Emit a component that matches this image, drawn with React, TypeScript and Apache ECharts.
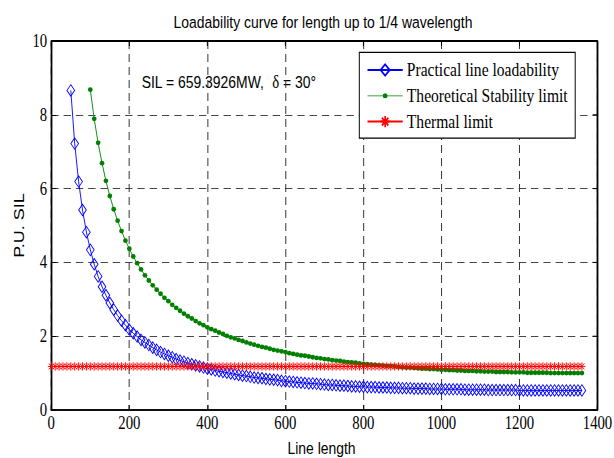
import React, { useEffect, useRef } from "react";
import * as echarts from "echarts";

// ---------------- data ----------------
const lengths = [
  0, 10, 20, 30, 40, 50, 60, 70, 80, 90,
  100, 110, 120, 130, 140, 150, 160, 170, 180, 190,
  200, 210, 220, 230, 240, 250, 260, 270, 280, 290,
  300, 310, 320, 330, 340, 350, 360, 370, 380, 390,
  400, 410, 420, 430, 440, 450, 460, 470, 480, 490,
  500, 510, 520, 530, 540, 550, 560, 570, 580, 590,
  600, 610, 620, 630, 640, 650, 660, 670, 680, 690,
  700, 710, 720, 730, 740, 750, 760, 770, 780, 790,
  800, 810, 820, 830, 840, 850, 860, 870, 880, 890,
  900, 910, 920, 930, 940, 950, 960, 970, 980, 990,
  1000, 1010, 1020, 1030, 1040, 1050, 1060, 1070, 1080, 1090,
  1100, 1110, 1120, 1130, 1140, 1150, 1160, 1170, 1180, 1190,
  1200, 1210, 1220, 1230, 1240, 1250, 1260, 1270, 1280, 1290,
  1300, 1310, 1320, 1330, 1340, 1350, 1360,
];

// Practical line loadability, from 50 km
const practicalStart = 50;
const practical = [
  8.66, 7.22, 6.19, 5.42, 4.82, 4.34, 3.95, 3.62, 3.34, 3.11,
  2.90, 2.72, 2.56, 2.42, 2.30, 2.18, 2.08, 1.99, 1.90, 1.83,
  1.76, 1.69, 1.63, 1.57, 1.52, 1.47, 1.43, 1.38, 1.34, 1.31,
  1.27, 1.24, 1.21, 1.18, 1.15, 1.12, 1.10, 1.07, 1.05, 1.03,
  1.01, 0.99, 0.97, 0.95, 0.93, 0.92, 0.90, 0.88, 0.87, 0.86,
  0.84, 0.83, 0.82, 0.81, 0.79, 0.78, 0.77, 0.76, 0.75, 0.74,
  0.73, 0.72, 0.72, 0.71, 0.70, 0.69, 0.68, 0.68, 0.67, 0.66,
  0.66, 0.65, 0.64, 0.64, 0.63, 0.63, 0.62, 0.62, 0.62, 0.61,
  0.61, 0.61, 0.60, 0.60, 0.60, 0.59, 0.59, 0.59, 0.58, 0.58,
  0.58, 0.58, 0.57, 0.57, 0.57, 0.57, 0.56, 0.56, 0.56, 0.56,
  0.56, 0.55, 0.55, 0.55, 0.55, 0.55, 0.55, 0.54, 0.54, 0.54,
  0.54, 0.54, 0.54, 0.54, 0.54, 0.53, 0.53, 0.53, 0.53, 0.53,
  0.53, 0.53, 0.53, 0.53, 0.53, 0.53, 0.53, 0.53, 0.53, 0.53,
  0.53, 0.53,
];

// Theoretical stability limit, from 100 km
const theoreticalStart = 100;
const theoretical = [
  8.68, 7.89, 7.24, 6.69, 6.21, 5.80, 5.44, 5.13, 4.85, 4.59,
  4.37, 4.16, 3.98, 3.81, 3.65, 3.51, 3.38, 3.26, 3.15, 3.04,
  2.95, 2.85, 2.77, 2.69, 2.61, 2.54, 2.48, 2.41, 2.35, 2.30,
  2.24, 2.19, 2.15, 2.10, 2.06, 2.01, 1.97, 1.94, 1.90, 1.87,
  1.83, 1.80, 1.77, 1.74, 1.71, 1.69, 1.66, 1.63, 1.61, 1.59,
  1.57, 1.54, 1.52, 1.50, 1.48, 1.47, 1.45, 1.43, 1.41, 1.40,
  1.38, 1.37, 1.35, 1.34, 1.33, 1.31, 1.30, 1.29, 1.28, 1.26,
  1.25, 1.24, 1.23, 1.22, 1.21, 1.20, 1.19, 1.19, 1.18, 1.17,
  1.16, 1.15, 1.15, 1.14, 1.13, 1.12, 1.12, 1.11, 1.11, 1.10,
  1.09, 1.09, 1.08, 1.08, 1.07, 1.07, 1.06, 1.06, 1.06, 1.05,
  1.05, 1.04, 1.04, 1.04, 1.03, 1.03, 1.03, 1.03, 1.02, 1.02,
  1.02, 1.02, 1.01, 1.01, 1.01, 1.01, 1.01, 1.01, 1.00, 1.00,
  1.00, 1.00, 1.00, 1.00, 1.00, 1.00, 1.00,
];

// Thermal limit, from 0 km
const thermalStart = 0;
const thermal = [
  1.18, 1.18, 1.18, 1.18, 1.18, 1.18, 1.18, 1.18, 1.18, 1.18,
  1.18, 1.18, 1.18, 1.18, 1.18, 1.18, 1.18, 1.18, 1.18, 1.18,
  1.18, 1.18, 1.18, 1.18, 1.18, 1.18, 1.18, 1.18, 1.18, 1.18,
  1.18, 1.18, 1.18, 1.18, 1.18, 1.18, 1.18, 1.18, 1.18, 1.18,
  1.18, 1.18, 1.18, 1.18, 1.18, 1.18, 1.18, 1.18, 1.18, 1.18,
  1.18, 1.18, 1.18, 1.18, 1.18, 1.18, 1.18, 1.18, 1.18, 1.18,
  1.18, 1.18, 1.18, 1.18, 1.18, 1.18, 1.18, 1.18, 1.18, 1.18,
  1.18, 1.18, 1.18, 1.18, 1.18, 1.18, 1.18, 1.18, 1.18, 1.18,
  1.18, 1.18, 1.18, 1.18, 1.18, 1.18, 1.18, 1.18, 1.18, 1.18,
  1.18, 1.18, 1.18, 1.18, 1.18, 1.18, 1.18, 1.18, 1.18, 1.18,
  1.18, 1.18, 1.18, 1.18, 1.18, 1.18, 1.18, 1.18, 1.18, 1.18,
  1.18, 1.18, 1.18, 1.18, 1.18, 1.18, 1.18, 1.18, 1.18, 1.18,
  1.18, 1.18, 1.18, 1.18, 1.18, 1.18, 1.18, 1.18, 1.18, 1.18,
  1.18, 1.18, 1.18, 1.18, 1.18, 1.18, 1.18,
];

const seriesNames = [
  "Practical line loadability",
  "Theoretical Stability limit",
  "Thermal limit",
];
const titleText = "Loadability curve for length up to 1/4 wavelength";
const xAxisTitle = "Line length";
const yAxisTitle = "P.U. SIL";
const xTickValues = [0, 200, 400, 600, 800, 1000, 1200, 1400];
const yTickValues = [0, 2, 4, 6, 8, 10];

// ---------------- layout ----------------
const S = 0.82; // horizontal squash, matches the condensed look of the source
const INNER_W = 749;
const H = 458;
const ix = (px: number) => px / S;
const GRID_LEFT = ix(51.3);
const GRID_RIGHT = ix(597.5);
const GRID_TOP = 41;
const GRID_H = 369;

function pairs(start: number, values: number[]) {
  const off = lengths.indexOf(start);
  return values.map((v, i) => [lengths[off + i], v]);
}

const SANS = "'Liberation Sans', Arial, sans-serif";
const SERIF = "'Liberation Serif', 'Times New Roman', serif";

export default function App() {
  const ref = useRef<HTMLDivElement>(null);

  useEffect(() => {
    if (!ref.current) return;
    const chart = echarts.init(ref.current, null, {
      renderer: "svg",
      width: INNER_W,
      height: H,
    });

    const xMin = xTickValues[0];
    const xMax = xTickValues[xTickValues.length - 1];
    const yMin = yTickValues[0];
    const yMax = yTickValues[yTickValues.length - 1];
    const plain = (v: number) => String(v);
    const gridW = GRID_RIGHT - GRID_LEFT;

    // top / right edges of the axes box with inward ticks (MATLAB style)
    const frame: any[] = [
      {
        type: "rect",
        left: GRID_LEFT,
        top: GRID_TOP - 1,
        silent: true,
        z: 50,
        shape: { width: gridW, height: 2 },
        style: { fill: "#000" },
      },
      {
        type: "rect",
        left: GRID_RIGHT - 1,
        top: GRID_TOP,
        silent: true,
        z: 50,
        shape: { width: 2, height: GRID_H },
        style: { fill: "#000" },
      },
    ];
    xTickValues.forEach((v) => {
      const px = GRID_LEFT + ((v - xMin) / (xMax - xMin)) * gridW;
      frame.push({
        type: "rect",
        left: px - 0.6,
        top: GRID_TOP,
        silent: true,
        z: 50,
        shape: { width: 1.2, height: 5 },
        style: { fill: "#000" },
      });
    });
    yTickValues.forEach((v) => {
      const py = GRID_TOP + GRID_H - ((v - yMin) / (yMax - yMin)) * GRID_H;
      frame.push({
        type: "rect",
        left: GRID_RIGHT - 6,
        top: py - 0.5,
        silent: true,
        z: 50,
        shape: { width: 6, height: 1 },
        style: { fill: "#000" },
      });
    });

    const option: any = {
      animation: false,
      backgroundColor: "#fff",
      title: {
        text: titleText,
        left: ix(323),
        top: 13,
        textAlign: "center",
        padding: 0,
        textStyle: { fontFamily: SANS, fontSize: 17, fontWeight: "normal", color: "#000" },
      },
      grid: {
        show: true,
        left: GRID_LEFT,
        top: GRID_TOP,
        width: gridW,
        height: GRID_H,
        borderColor: "#000",
        borderWidth: 1.5,
        backgroundColor: "rgba(0,0,0,0)",
        outerBoundsMode: "none",
      },
      xAxis: {
        type: "value",
        min: xMin,
        max: xMax,
        interval: xTickValues[1] - xTickValues[0],
        axisLine: { show: true, onZero: false, lineStyle: { color: "#000", width: 1.5 } },
        axisTick: { show: true, inside: true, length: 5, lineStyle: { color: "#000", width: 1.2 } },
        axisLabel: { fontFamily: SERIF, fontSize: 18, color: "#000", margin: 4, formatter: plain },
        splitLine: { show: true, showMaxLine: true, lineStyle: { color: "#333", width: 1.2, type: [8, 5] } },
      },
      yAxis: {
        type: "value",
        min: yMin,
        max: yMax,
        interval: yTickValues[1] - yTickValues[0],
        axisLine: { show: true, onZero: false, lineStyle: { color: "#000", width: 1.8 } },
        axisTick: { show: true, inside: true, length: 6, lineStyle: { color: "#000", width: 1 } },
        axisLabel: { fontFamily: SERIF, fontSize: 18, color: "#000", margin: 5, formatter: plain },
        splitLine: { show: true, showMaxLine: true, lineStyle: { color: "#333", width: 1, type: [9, 6] } },
      },
      legend: {
        orient: "vertical",
        left: ix(359.3),
        top: 52.3,
        padding: [7.7, 9, 6.6, 9],
        itemGap: 5.8,
        itemWidth: 43,
        itemHeight: 14,
        symbolKeepAspect: true,
        backgroundColor: "#fff",
        borderColor: "#000",
        borderWidth: 1.2,
        borderRadius: 0,
        selectedMode: false,
        textStyle: { fontFamily: SERIF, fontSize: 19, color: "#000", lineHeight: 20 },
        data: [
          { name: seriesNames[0] },
          {
            name: seriesNames[1],
            icon:
              "path://M0,0M43,14M0,6.6L43,6.6L43,7.4L0,7.4Z M18.5,7A3,2.5,0,1,1,24.5,7A3,2.5,0,1,1,18.5,7Z",
          },
          { name: seriesNames[2] },
        ],
      },
      tooltip: { show: false },
      graphic: [
        ...frame,
        {
          type: "text",
          x: ix(141.7),
          y: 82,
          silent: true,
          style: {
            text: "{a|SIL = 659.3926MW,  }{d|δ}{a| = 30°}",
            align: "left",
            verticalAlign: "middle",
            fill: "#000",
            rich: {
              a: { fontFamily: SANS, fontSize: 17, fill: "#000", lineHeight: 20 },
              d: { fontFamily: SERIF, fontSize: 18, fill: "#000", lineHeight: 20 },
            },
          },
        },
        {
          type: "text",
          x: ix(19),
          y: 225.5,
          rotation: Math.PI / 2,
          silent: true,
          style: {
            text: yAxisTitle,
            align: "center",
            verticalAlign: "middle",
            fill: "#000",
            fontFamily: SANS,
            fontSize: 18,
          },
        },
        {
          type: "text",
          x: ix(321.5),
          y: 448,
          silent: true,
          style: {
            text: xAxisTitle,
            align: "center",
            verticalAlign: "middle",
            fill: "#000",
            fontFamily: SANS,
            fontSize: 17,
          },
        },
      ],
      series: [
        {
          name: seriesNames[0],
          type: "line",
          data: pairs(practicalStart, practical),
          symbol: "diamond",
          symbolSize: [9.4, 11.5],
          showAllSymbol: true,
          lineStyle: { color: "#0000ff", width: 1 },
          itemStyle: { color: "none", borderColor: "#0000ff", borderWidth: 1 },
          emphasis: { disabled: true },
          silent: true,
          z: 2,
        },
        {
          name: seriesNames[1],
          type: "line",
          data: pairs(theoreticalStart, theoretical),
          symbol: "path://M0,5A5,5,0,1,1,10,5A5,5,0,1,1,0,5Z",
          symbolSize: [5.8, 4.8],
          showAllSymbol: true,
          lineStyle: { color: "#008000", width: 1 },
          itemStyle: { color: "#008000", borderWidth: 0 },
          emphasis: { disabled: true },
          silent: true,
          z: 3,
        },
        {
          name: seriesNames[2],
          type: "line",
          data: pairs(thermalStart, thermal),
          symbol: "path://M5,0L5,10M0,5L10,5M1.5,1.5L8.5,8.5M1.5,8.5L8.5,1.5",
          symbolSize: [8.5, 8.3],
          showAllSymbol: true,
          lineStyle: { color: "#ff0000", width: 1 },
          itemStyle: { color: "none", borderColor: "#ff0000", borderWidth: 1 },
          emphasis: { disabled: true },
          silent: true,
          z: 4,
        },
      ],
    };

    chart.setOption(option);

    return () => {
      chart.dispose();
    };
  }, []);

  return (
    <div
      style={{
        position: "fixed",
        left: 0,
        top: 0,
        width: 614,
        height: H,
        overflow: "hidden",
        background: "#fff",
      }}
    >
      <div
        ref={ref}
        style={{
          width: INNER_W,
          height: H,
          transform: `scaleX(${S})`,
          transformOrigin: "0 0",
        }}
      />
    </div>
  );
}
